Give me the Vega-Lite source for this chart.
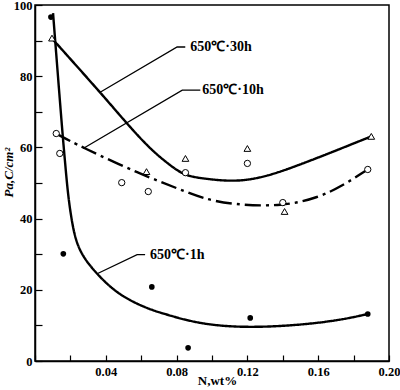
{
  "$schema": "https://vega.github.io/schema/vega-lite/v6.json",
  "width": 354,
  "height": 356,
  "autosize": "none",
  "padding": {"left": 35, "top": 5, "right": 11, "bottom": 29},
  "background": "white",
  "config": {
    "view": {"stroke": "black", "strokeWidth": 1.5},
    "axis": {
      "grid": false,
      "domainColor": "black",
      "domainWidth": 1.5,
      "tickColor": "black",
      "tickWidth": 1.2,
      "labelFont": "Liberation Serif",
      "labelFontWeight": "bold",
      "labelFontSize": 12.5,
      "labelColor": "black",
      "titleFont": "Liberation Serif",
      "titleFontWeight": "bold",
      "titleFontSize": 13,
      "titleColor": "black"
    }
  },
  "datasets": {
    "pts": [
      {"series": "1h", "n": 0.009, "pa": 96.6},
      {"series": "1h", "n": 0.016, "pa": 30.1},
      {"series": "1h", "n": 0.066, "pa": 20.8},
      {"series": "1h", "n": 0.0865, "pa": 3.7},
      {"series": "1h", "n": 0.1216, "pa": 12.1},
      {"series": "1h", "n": 0.188, "pa": 13.2},
      {"series": "10h", "n": 0.012, "pa": 63.9},
      {"series": "10h", "n": 0.014, "pa": 58.3},
      {"series": "10h", "n": 0.049, "pa": 50.1},
      {"series": "10h", "n": 0.064, "pa": 47.6},
      {"series": "10h", "n": 0.085, "pa": 52.9},
      {"series": "10h", "n": 0.12, "pa": 55.5},
      {"series": "10h", "n": 0.14, "pa": 44.5},
      {"series": "10h", "n": 0.188, "pa": 53.8},
      {"series": "30h", "n": 0.0096, "pa": 90.7},
      {"series": "30h", "n": 0.063, "pa": 53.2},
      {"series": "30h", "n": 0.085, "pa": 56.9},
      {"series": "30h", "n": 0.12, "pa": 59.7},
      {"series": "30h", "n": 0.141, "pa": 42.0},
      {"series": "30h", "n": 0.19, "pa": 63.1}
    ],
    "curves": [
      {"series": "30h", "n": 0.0096, "pa": 90.6},
      {"series": "30h", "n": 0.0368, "pa": 75.5},
      {"series": "30h", "n": 0.0509, "pa": 67.3},
      {"series": "30h", "n": 0.0594, "pa": 62.6},
      {"series": "30h", "n": 0.0668, "pa": 58.9},
      {"series": "30h", "n": 0.0735, "pa": 56.1},
      {"series": "30h", "n": 0.078, "pa": 54.4},
      {"series": "30h", "n": 0.082, "pa": 53.0},
      {"series": "30h", "n": 0.0877, "pa": 51.8},
      {"series": "30h", "n": 0.0973, "pa": 51.1},
      {"series": "30h", "n": 0.114, "pa": 50.3},
      {"series": "30h", "n": 0.131, "pa": 51.8},
      {"series": "30h", "n": 0.150, "pa": 55.2},
      {"series": "30h", "n": 0.169, "pa": 58.9},
      {"series": "30h", "n": 0.19, "pa": 63.1},
      {"series": "10h", "n": 0.0119, "pa": 63.9},
      {"series": "10h", "n": 0.0266, "pa": 60.0},
      {"series": "10h", "n": 0.0594, "pa": 52.5},
      {"series": "10h", "n": 0.082, "pa": 48.2},
      {"series": "10h", "n": 0.095, "pa": 45.6},
      {"series": "10h", "n": 0.112, "pa": 43.9},
      {"series": "10h", "n": 0.140, "pa": 43.4},
      {"series": "10h", "n": 0.160, "pa": 45.9},
      {"series": "10h", "n": 0.173, "pa": 49.0},
      {"series": "10h", "n": 0.188, "pa": 53.8},
      {"series": "1h", "n": 0.0102, "pa": 97.7},
      {"series": "1h", "n": 0.0153, "pa": 65.1},
      {"series": "1h", "n": 0.0170, "pa": 55.8},
      {"series": "1h", "n": 0.0187, "pa": 46.2},
      {"series": "1h", "n": 0.0215, "pa": 36.9},
      {"series": "1h", "n": 0.0243, "pa": 32.1},
      {"series": "1h", "n": 0.0283, "pa": 28.5},
      {"series": "1h", "n": 0.0339, "pa": 25.1},
      {"series": "1h", "n": 0.0407, "pa": 21.6},
      {"series": "1h", "n": 0.0481, "pa": 18.6},
      {"series": "1h", "n": 0.0577, "pa": 16.0},
      {"series": "1h", "n": 0.0668, "pa": 14.2},
      {"series": "1h", "n": 0.0707, "pa": 13.6},
      {"series": "1h", "n": 0.093, "pa": 10.3},
      {"series": "1h", "n": 0.120, "pa": 9.3},
      {"series": "1h", "n": 0.150, "pa": 10.1},
      {"series": "1h", "n": 0.1726, "pa": 11.5},
      {"series": "1h", "n": 0.188, "pa": 13.2}
    ],
    "leaders": [
      {"id": "30h", "o": 1, "n": 0.0368, "pa": 75.5},
      {"id": "30h", "o": 2, "n": 0.0803, "pa": 88.2},
      {"id": "30h", "o": 3, "n": 0.0849, "pa": 88.2},
      {"id": "10h", "o": 1, "n": 0.0272, "pa": 59.7},
      {"id": "10h", "o": 2, "n": 0.0832, "pa": 76.1},
      {"id": "10h", "o": 3, "n": 0.0934, "pa": 76.1},
      {"id": "1h", "o": 1, "n": 0.0351, "pa": 24.5},
      {"id": "1h", "o": 2, "n": 0.0577, "pa": 29.9},
      {"id": "1h", "o": 3, "n": 0.0622, "pa": 29.9}
    ],
    "labels": [
      {"text": "650℃·30h", "n": 0.0877, "pa": 88.2},
      {"text": "650℃·10h", "n": 0.0945, "pa": 76.1},
      {"text": "650℃·1h", "n": 0.065, "pa": 29.9}
    ]
  },
  "encoding": {
    "x": {
      "field": "n", "type": "quantitative",
      "scale": {"domain": [0, 0.2], "nice": false, "zero": false},
      "axis": {
        "title": "N,wt%",
        "values": [0, 0.02, 0.04, 0.06, 0.08, 0.1, 0.12, 0.14, 0.16, 0.18, 0.2],
        "labelExpr": "round(datum.value*100) % 4 == 0 && datum.value > 0 ? format(datum.value, '.2f') : ''",
        "tickSize": -6,
        "labelPadding": 10,
        "labelFlush": false,
        "titleX": 182,
        "titleY": 19,
        "titleAlign": "center",
        "titleBaseline": "middle"
      }
    },
    "y": {
      "field": "pa", "type": "quantitative",
      "scale": {"domain": [0, 100], "nice": false},
      "axis": {
        "title": "Pa,C/cm²",
        "titleFontStyle": "italic",
        "values": [0, 10, 20, 30, 40, 50, 60, 70, 80, 90, 100],
        "labelExpr": "datum.value % 20 == 0 ? datum.label : ''",
        "tickSize": -7,
        "labelPadding": 10,
        "labelFlush": false,
        "titleX": -27,
        "titleY": 167,
        "titleAngle": -90,
        "titleAlign": "center",
        "titleBaseline": "middle"
      }
    }
  },
  "layer": [
    {
      "data": {"name": "curves"},
      "mark": {"type": "line", "interpolate": "basis", "color": "black", "strokeWidth": 2.4},
      "encoding": {
        "detail": {"field": "series"},
        "strokeDash": {
          "field": "series", "type": "nominal",
          "scale": {"domain": ["1h", "10h", "30h"], "range": [[1, 0], [16, 5, 3, 5], [1, 0]]},
          "legend": null
        }
      }
    },
    {
      "data": {"name": "leaders"},
      "mark": {"type": "line", "color": "black", "strokeWidth": 1.3},
      "encoding": {
        "detail": {"field": "id"},
        "order": {"field": "o"}
      }
    },
    {
      "data": {"name": "pts"},
      "transform": [{"filter": "datum.series == '1h'"}],
      "mark": {"type": "point", "shape": "circle", "filled": true, "color": "black", "size": 32, "opacity": 1}
    },
    {
      "data": {"name": "pts"},
      "transform": [{"filter": "datum.series == '10h'"}],
      "mark": {"type": "point", "shape": "circle", "filled": false, "color": "black", "size": 40, "strokeWidth": 1, "opacity": 1, "fill": "white"}
    },
    {
      "data": {"name": "pts"},
      "transform": [{"filter": "datum.series == '30h'"}],
      "mark": {"type": "point", "shape": "triangle-up", "filled": false, "color": "black", "size": 45, "strokeWidth": 1, "opacity": 1, "fill": "white"}
    },
    {
      "data": {"name": "labels"},
      "mark": {"type": "text", "align": "left", "baseline": "middle", "font": "Liberation Serif", "fontWeight": "bold", "fontSize": 14, "color": "black"},
      "encoding": {"text": {"field": "text"}}
    }
  ]
}
